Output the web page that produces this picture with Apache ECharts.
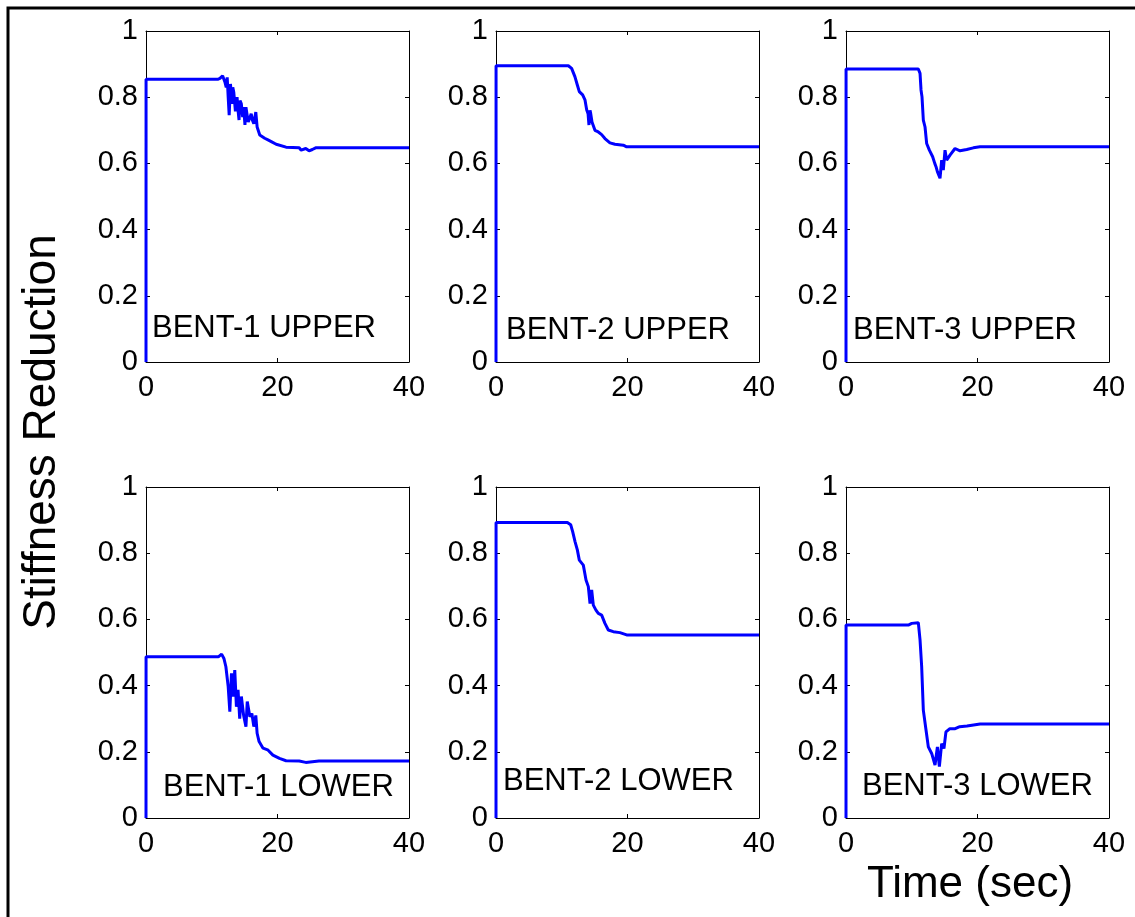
<!DOCTYPE html>
<html>
<head>
<meta charset="utf-8">
<script src="https://cdn.jsdelivr.net/npm/echarts@6/dist/echarts.min.js"></script>
<style>
  html, body { margin: 0; padding: 0; background: #fff; overflow: hidden; }
  #chart { width: 1135px; height: 917px; }
</style>
</head>
<body>
<div id="chart"></div>
<script>
// Stiffness reduction histories for the bent columns (time in seconds)
const panelNames = ['BENT-1 UPPER', 'BENT-2 UPPER', 'BENT-3 UPPER',
                    'BENT-1 LOWER', 'BENT-2 LOWER', 'BENT-3 LOWER'];

const xTicks = [0, 20, 40];
const yTicks = [0, 0.2, 0.4, 0.6, 0.8, 1];

const tB1U = [0, 0.01, 10.9, 11.25, 11.65, 12.0, 12.2, 12.35, 12.5, 12.65, 12.85, 13.05, 13.2, 13.35, 13.6, 13.85, 14.0, 14.15, 14.3, 14.5, 14.7, 14.85, 15.05, 15.2, 15.35, 15.55, 15.75, 16.0, 16.2, 16.4, 16.7, 16.9, 17.3, 18.05, 18.55, 19.05, 19.8, 21.3, 23.3, 23.6, 24.3, 24.8, 25.3, 25.8, 40];
const vB1U = [0, 0.854, 0.854, 0.857, 0.865, 0.846, 0.83, 0.86, 0.80, 0.746, 0.84, 0.78, 0.83, 0.815, 0.757, 0.80, 0.76, 0.731, 0.79, 0.78, 0.74, 0.77, 0.716, 0.77, 0.75, 0.725, 0.735, 0.75, 0.73, 0.72, 0.755, 0.71, 0.686, 0.676, 0.671, 0.666, 0.658, 0.649, 0.647, 0.640, 0.645, 0.638, 0.642, 0.647, 0.647];

const tB2U = [0, 0.01, 11.0, 11.5, 12.0, 12.37, 12.67, 13.18, 13.53, 13.79, 14.0, 14.14, 14.3, 14.4, 14.6, 14.8, 15.05, 15.56, 16.07, 16.57, 17.33, 18.09, 19.36, 19.87, 40];
const vB2U = [0, 0.895, 0.895, 0.887, 0.862, 0.837, 0.817, 0.807, 0.792, 0.762, 0.75, 0.716, 0.76, 0.751, 0.725, 0.72, 0.70, 0.695, 0.687, 0.675, 0.662, 0.658, 0.655, 0.65, 0.65];

const tB3U = [0, 0.01, 11.0, 11.26, 11.41, 11.56, 11.76, 12.02, 12.27, 12.68, 13.18, 13.5, 13.69, 13.9, 14.05, 14.3, 14.55, 14.8, 15.06, 15.31, 15.82, 16.58, 17.34, 18.36, 19.37, 20.38, 40];
const vB3U = [0, 0.885, 0.885, 0.872, 0.822, 0.801, 0.731, 0.71, 0.66, 0.64, 0.62, 0.60, 0.59, 0.575, 0.57, 0.555, 0.61, 0.58, 0.64, 0.61, 0.625, 0.645, 0.638, 0.642, 0.647, 0.65, 0.65];

const tB1L = [0, 0.01, 11.0, 11.5, 11.85, 12.15, 12.5, 12.75, 13.0, 13.25, 13.5, 13.75, 14.0, 14.25, 14.5, 14.85, 15.2, 15.4, 15.8, 16.1, 16.4, 16.7, 16.9, 17.2, 17.8, 18.5, 19.3, 20.3, 21.3, 23.3, 24.3, 26.3, 40];
const vB1L = [0, 0.487, 0.487, 0.495, 0.482, 0.457, 0.397, 0.321, 0.437, 0.367, 0.447, 0.336, 0.387, 0.30, 0.367, 0.31, 0.276, 0.352, 0.306, 0.316, 0.276, 0.31, 0.256, 0.231, 0.211, 0.206, 0.19, 0.18, 0.173, 0.172, 0.168, 0.172, 0.172];

const tB2L = [0, 0.01, 10.85, 11.36, 11.66, 12.02, 12.37, 12.67, 13.28, 13.69, 14.04, 14.3, 14.55, 14.8, 15.2, 15.56, 16.07, 16.57, 17.08, 17.84, 18.85, 19.87, 40];
const vB2L = [0, 0.893, 0.893, 0.886, 0.865, 0.835, 0.81, 0.779, 0.764, 0.719, 0.699, 0.648, 0.689, 0.643, 0.628, 0.618, 0.613, 0.588, 0.568, 0.563, 0.56, 0.553, 0.553];

const tB3L = [0, 0.01, 9.48, 10.0, 11.0, 11.26, 11.51, 11.76, 12.17, 12.52, 13.03, 13.54, 13.9, 14.2, 14.55, 14.9, 15.2, 15.8, 16.6, 17.3, 18.4, 19.4, 20.4, 40];
const vB3L = [0, 0.583, 0.583, 0.588, 0.59, 0.538, 0.457, 0.326, 0.266, 0.215, 0.195, 0.16, 0.215, 0.155, 0.225, 0.21, 0.26, 0.27, 0.27, 0.276, 0.278, 0.281, 0.284, 0.284];

const panelTimes = [tB1U, tB2U, tB3U, tB1L, tB2L, tB3L];
const panelValues = [vB1U, vB2U, vB3U, vB1L, vB2L, vB3L];

// Layout of the 2x3 grid of axes (pixels)
const gridLefts = [146, 496, 846];
const gridTops = [31, 487];
const gridW = 263, gridH = 331;
const labelPos = [[152, 331], [506, 333], [853, 333], [163, 790], [503, 784], [862, 789]];

const FONT = 'Liberation Sans, Arial, sans-serif';
const tickFont = { color: '#000', fontFamily: FONT, fontSize: 29 };
const axisLine = { show: true, onZero: false, lineStyle: { color: '#000', width: 1 } };
const innerTick = { show: true, inside: true, length: 4, lineStyle: { color: '#000', width: 1 } };

const grids = [], xAxes = [], yAxes = [], series = [], graphics = [];

for (let i = 0; i < 6; i++) {
  const row = Math.floor(i / 3), col = i % 3;
  grids.push({ left: gridLefts[col], top: gridTops[row], width: gridW, height: gridH });

  const xBase = { type: 'value', gridIndex: i, min: xTicks[0], max: xTicks[xTicks.length - 1],
    interval: xTicks[1] - xTicks[0], splitLine: { show: false }, axisLine: axisLine, axisTick: innerTick };
  xAxes.push(Object.assign({}, xBase, { position: 'bottom',
    axisLabel: Object.assign({ margin: 11 }, tickFont) }));
  xAxes.push(Object.assign({}, xBase, { position: 'top', axisLabel: { show: false } }));

  const yBase = { type: 'value', gridIndex: i, min: yTicks[0], max: yTicks[yTicks.length - 1],
    interval: yTicks[1] - yTicks[0], splitLine: { show: false }, axisLine: axisLine, axisTick: innerTick };
  yAxes.push(Object.assign({}, yBase, { position: 'left',
    axisLabel: Object.assign({ margin: 8 }, tickFont) }));
  yAxes.push(Object.assign({}, yBase, { position: 'right', axisLabel: { show: false } }));

  series.push({
    type: 'line', xAxisIndex: 2 * i, yAxisIndex: 2 * i,
    data: panelTimes[i].map((t, k) => [t, panelValues[i][k]]),
    showSymbol: false, symbol: 'none', animation: false,
    lineStyle: { color: '#0000ff', width: 3 }
  });

  graphics.push({
    type: 'text', left: labelPos[i][0], top: labelPos[i][1] - 18,
    style: { text: panelNames[i], fill: '#000', font: '31px ' + FONT }
  });
}

// Figure frame (left and top edges) and shared axis titles
graphics.push({
  type: 'polyline', shape: { points: [[8, 917], [8, 8], [1135, 8]] },
  style: { fill: null, stroke: '#000', lineWidth: 3 }, z: -1
});
graphics.push({
  type: 'text', x: 42, y: 432, rotation: Math.PI / 2,
  style: { text: 'Stiffness Reduction', fill: '#000', font: '46px ' + FONT,
           align: 'center', verticalAlign: 'middle' }
});
graphics.push({
  type: 'text', x: 970, y: 885,
  style: { text: 'Time (sec)', fill: '#000', font: '44px ' + FONT,
           align: 'center', verticalAlign: 'middle' }
});

const chart = echarts.init(document.getElementById('chart'), null, { renderer: 'canvas' });
chart.setOption({
  animation: false,
  backgroundColor: '#fff',
  grid: grids,
  xAxis: xAxes,
  yAxis: yAxes,
  series: series,
  graphic: graphics
});
</script>
</body>
</html>
